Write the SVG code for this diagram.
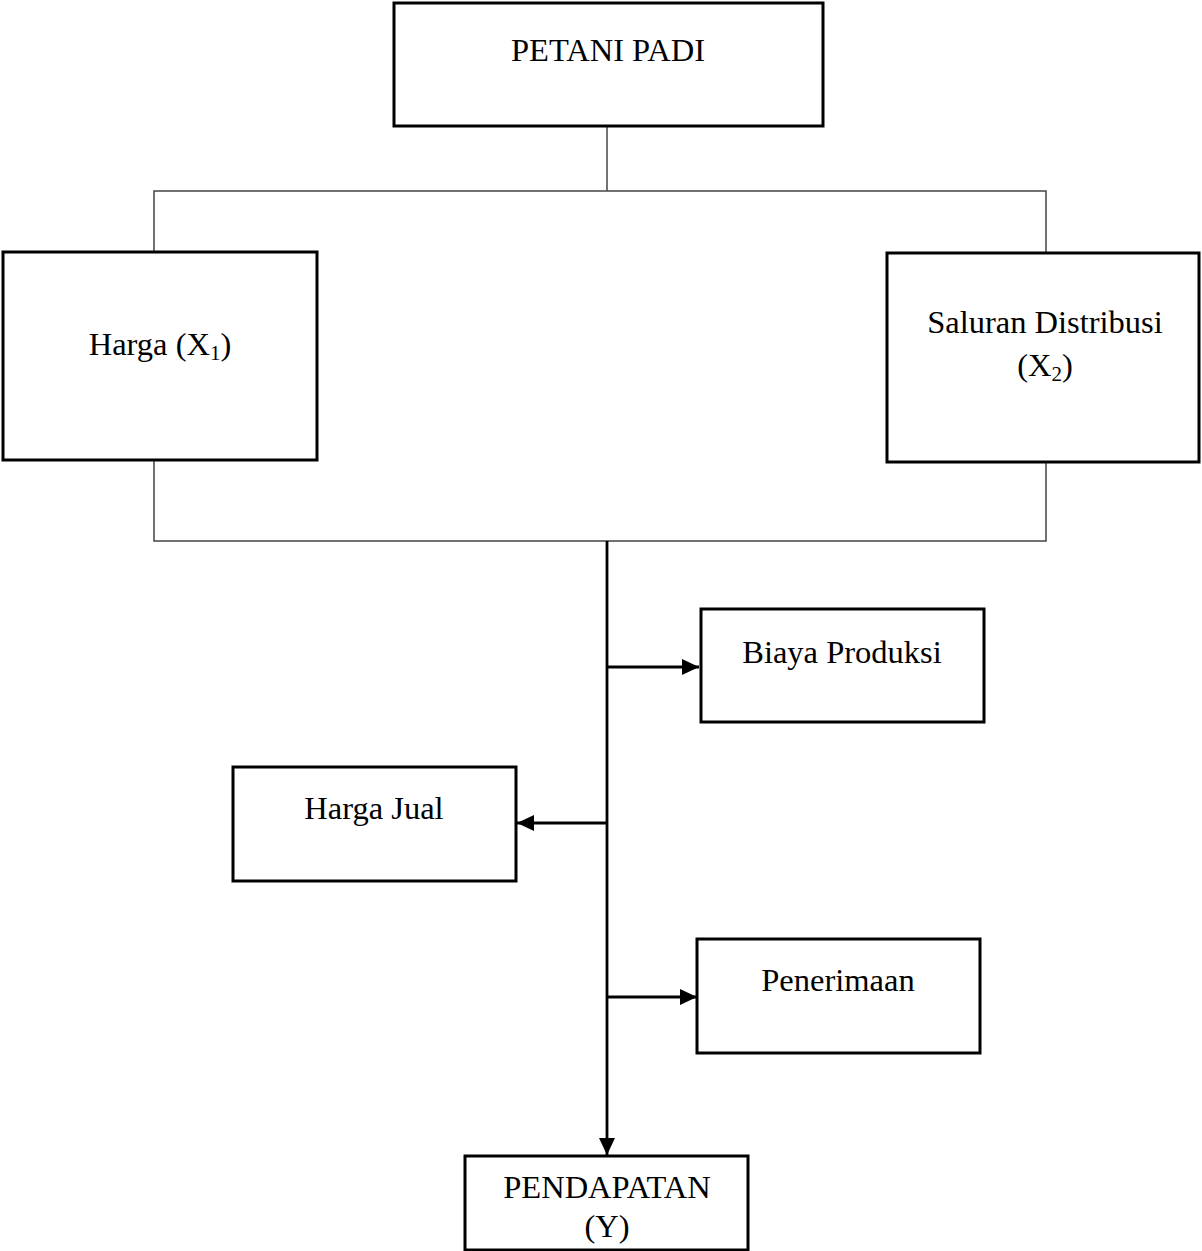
<svg xmlns="http://www.w3.org/2000/svg" width="1202" height="1251" viewBox="0 0 1202 1251">
<style>
.box{fill:#fff;stroke:#000;stroke-width:3}
.t{font-family:"Liberation Serif","Times New Roman",serif;font-size:32.5px;fill:#000;text-anchor:middle}
.sub{font-size:21px}
.thin{stroke:#444;stroke-width:1.5;fill:none}
.thick{stroke:#000;stroke-width:2.8;fill:none}
</style>
<defs>
<marker id="ah" markerWidth="17" markerHeight="16" refX="17" refY="8" orient="auto" markerUnits="userSpaceOnUse">
<path d="M0,0 L17,8 L0,16 Z" fill="#000"/>
</marker>
</defs>
<rect width="1202" height="1251" fill="#fff"/>
<g id="connectors">
<polyline class="thin" points="607,126 607,191"/>
<polyline class="thin" points="154,252 154,191 1046,191 1046,253"/>
<polyline class="thin" points="154,460 154,541 1046,541 1046,462"/>
<line class="thick" x1="607" y1="541" x2="607" y2="1155" marker-end="url(#ah)"/>
<line class="thick" x1="607" y1="667" x2="699" y2="667" marker-end="url(#ah)"/>
<line class="thick" x1="607" y1="823" x2="517" y2="823" marker-end="url(#ah)"/>
<line class="thick" x1="607" y1="997" x2="697" y2="997" marker-end="url(#ah)"/>
</g>
<g id="petani">
<rect class="box" x="394" y="3" width="429" height="123"/>
<text class="t" x="608" y="61">PETANI PADI</text>
</g>
<g id="harga">
<rect class="box" x="3" y="252" width="314" height="208"/>
<text class="t" x="160" y="355">Harga (X<tspan class="sub" dy="5">1</tspan><tspan dy="-5">)</tspan></text>
</g>
<g id="saluran">
<rect class="box" x="887" y="253" width="312" height="209"/>
<text class="t" x="1045" y="333">Saluran Distribusi</text>
<text class="t" x="1045" y="376">(X<tspan class="sub" dy="5">2</tspan><tspan dy="-5">)</tspan></text>
</g>
<g id="biaya">
<rect class="box" x="701" y="609" width="283" height="113"/>
<text class="t" x="842" y="663">Biaya Produksi</text>
</g>
<g id="hargajual">
<rect class="box" x="233" y="767" width="283" height="114"/>
<text class="t" x="374" y="819">Harga Jual</text>
</g>
<g id="penerimaan">
<rect class="box" x="697" y="939" width="283" height="114"/>
<text class="t" x="838" y="991">Penerimaan</text>
</g>
<g id="pendapatan">
<rect class="box" x="465" y="1156" width="283" height="94"/>
<text class="t" x="607" y="1198">PENDAPATAN</text>
<text class="t" x="607" y="1237">(Y)</text>
</g>
</svg>
